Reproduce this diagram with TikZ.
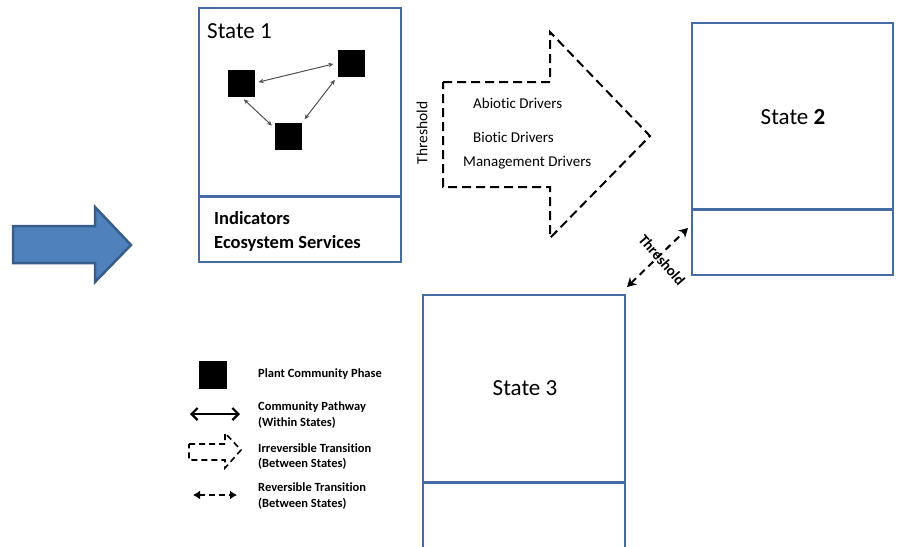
\documentclass[tikz,border=0pt]{standalone}
\usepackage{fontspec}
\setmainfont{Carlito}[Ligatures={NoCommon}]
\usetikzlibrary{arrows.meta, positioning}
\definecolor{stateblue}{RGB}{68,108,162}
\definecolor{bigarrowfill}{RGB}{79,129,189}
\definecolor{bigarrowline}{RGB}{56,93,138}
\definecolor{pathgray}{RGB}{80,80,80}

\begin{document}
\begin{tikzpicture}[x=1pt, y=-1pt,
  statebox/.style={draw=stateblue, line width=2.8pt, rectangle, inner sep=0},
  divider/.style={stateblue, line width=2.8pt},
  phase/.style={fill=black, rectangle, minimum size=27pt, inner sep=0},
  pathway/.style={pathgray, line width=1pt, {Stealth[length=5pt,width=4.5pt]}-{Stealth[length=5pt,width=4.5pt]}, shorten <=4pt, shorten >=4pt},
  statelabel/.style={font=\fontsize{23}{27}\selectfont, inner sep=0},
  driver/.style={font=\fontsize{15}{18}\selectfont, anchor=west, inner sep=0},
  legendtext/.style={font=\bfseries\fontsize{12.5}{16}\selectfont, anchor=west, inner sep=0},
  transition/.style={black, line width=2pt, dash pattern=on 9pt off 5pt},
]
\useasboundingbox (0,0) rectangle (901,546);
\clip (0,0) rectangle (901,546);

% big blue arrow
\draw[bigarrowline, fill=bigarrowfill, line width=2.5pt] (13,226) -- (95,226) -- (95,207) -- (131,245) -- (95,282) -- (95,263) -- (13,263) -- cycle;

% state 1
\node[statebox, minimum width=202pt, minimum height=254pt] (state1) at (300,135) {};
\draw[divider] ([yshift=67pt]state1.south west) -- ([yshift=67pt]state1.south east);
\node[statelabel, anchor=west] (state1label) at (207,31) {State 1};
\node[phase] (phaseA) at (241,83) {};
\node[phase] (phaseB) at (351,63) {};
\node[phase] (phaseC) at (288.5,136) {};
\draw[pathway] (phaseA.east) -- (phaseB.west);
\draw[pathway] (phaseA.south) -- ([yshift=-6pt]phaseC.north west);
\draw[pathway] (phaseB.south west) -- (phaseC.north east);
\node[font=\bfseries\fontsize{18.5}{25}\selectfont, anchor=west, inner sep=0] (indicators) at (214,218) {Indicators};
\node[font=\bfseries\fontsize{18.5}{25}\selectfont, anchor=west, inner sep=0] (services) at (214,243) {Ecosystem Services};

% irreversible transition
\draw[transition] (443,82) -- (550,82) -- (550,32) -- (650,136) -- (550,238) -- (550,187) -- (443,187) -- cycle;
\node[font=\fontsize{15.5}{18}\selectfont, rotate=90, inner sep=0] (threshold1) at (422,133) {Threshold};
\node[driver] (abiotic) at (473,103) {Abiotic Drivers};
\node[driver] (biotic) at (473,137) {Biotic Drivers};
\node[driver] (management) at (463,163) {Management Drivers};

% state 2
\node[statebox, minimum width=201pt, minimum height=252pt] (state2) at (792.5,149) {};
\draw[divider] ([yshift=67pt]state2.south west) -- ([yshift=67pt]state2.south east);
\node[statelabel] (state2label) at (793,117) {State \textbf{2}};

% state 3
\node[statebox, minimum width=202pt, minimum height=265pt] (state3) at (524,427.5) {};
\draw[divider] ([yshift=79pt]state3.south west) -- ([yshift=79pt]state3.south east);
\node[statelabel] (state3label) at (525,388) {State 3};

% reversible transition
\coordinate (thrLow) at (627,287);
\coordinate (thrHigh) at (688,228);
\draw[black, line width=2pt, dash pattern=on 7pt off 5pt, {Stealth[length=9pt,width=10pt]}-{Stealth[length=9pt,width=10pt]}] (thrLow) -- (thrHigh);
\node[font=\bfseries\fontsize{15}{18}\selectfont, rotate=-49, inner sep=0] (threshold2) at (662,260) {Threshold};

% legend
\node[phase, minimum size=28pt] (legPhase) at (212.5,374.5) {};
\node[legendtext] (legPhaseText) at (258,374) {Plant Community Phase};

\coordinate (legPathL) at (190,414);
\coordinate (legPathR) at (240,414);
\draw[black, line width=2.2pt, {Straight Barb[length=6pt,width=12pt]}-{Straight Barb[length=6pt,width=12pt]}] (legPathL) -- (legPathR);
\node[legendtext] (legPathText) at (258,407) {Community Pathway};
\node[legendtext] (legPathText2) at (258,423) {(Within States)};

\draw[black, line width=1.6pt, dash pattern=on 6pt off 4pt] (189,444) -- (225,444) -- (225,433) -- (241,450) -- (225,468) -- (225,460) -- (189,460) -- cycle;
\node[legendtext] (legIrrText) at (258,448) {Irreversible Transition};
\node[legendtext] (legIrrText2) at (258,464) {(Between States)};

\coordinate (legRevL) at (193,495);
\coordinate (legRevR) at (237,495);
\draw[black, line width=2pt, dash pattern=on 6pt off 4pt, {Latex[length=7pt,width=9pt]}-{Latex[length=7pt,width=9pt]}] (legRevL) -- (legRevR);
\node[legendtext] (legRevText) at (258,487) {Reversible Transition};
\node[legendtext] (legRevText2) at (258,504) {(Between States)};

\end{tikzpicture}
\end{document}
